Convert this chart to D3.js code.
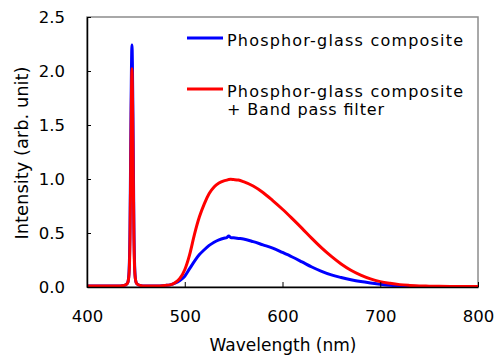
<!DOCTYPE html>
<html><head><meta charset="utf-8">
<script src="https://cdn.jsdelivr.net/npm/d3@7"></script>
<style>body{margin:0;background:#fff}svg{display:block}text{font-family:"DejaVu Sans",sans-serif;fill:#000}</style>
</head><body><svg id="c" width="501" height="355"></svg>
<script>
const wavelengths = [400,410,420,430,438,441,442,443,444,445,446,447,448,449,450,451,454,460,470,480,485,490,495,500,505,510,515,520,525,530,535,540,543,545,547,550,555,560,570,580,590,600,610,620,630,640,650,660,670,680,690,700,710,720,730,740,750,760,780,800];
const compositeValues = [0.01,0.01,0.01,0.01,0.015,0.03,0.05,0.14,0.55,1.6,2.24,1.6,0.55,0.14,0.05,0.03,0.015,0.01,0.01,0.015,0.02,0.035,0.06,0.10,0.17,0.24,0.30,0.345,0.385,0.415,0.437,0.452,0.458,0.472,0.458,0.455,0.45,0.445,0.42,0.39,0.36,0.32,0.278,0.232,0.185,0.145,0.112,0.088,0.067,0.05,0.037,0.026,0.016,0.01,0.006,0.005,0.005,0.005,0.005,0.005];
const filterValues = [0.01,0.01,0.01,0.01,0.015,0.03,0.05,0.12,0.45,1.35,2.02,1.35,0.45,0.12,0.05,0.03,0.015,0.01,0.01,0.015,0.02,0.04,0.08,0.16,0.30,0.49,0.65,0.77,0.865,0.925,0.962,0.983,0.99,0.995,0.997,0.995,0.99,0.975,0.935,0.875,0.80,0.72,0.633,0.543,0.45,0.362,0.283,0.213,0.155,0.11,0.075,0.05,0.034,0.022,0.015,0.01,0.008,0.006,0.005,0.005];
const xTicks = [400,500,600,700,800];
const yTicks = [0,0.5,1.0,1.5,2.0,2.5];
const seriesNames = ["Phosphor-glass composite","Phosphor-glass composite","+ Band pass filter"];
const xTitle = "Wavelength (nm)";
const yTitle = "Intensity (arb. unit)";

const svg = d3.select("#c");
const L=87, R=478, T=17, B=287;
const x = d3.scaleLinear().domain([400,800]).range([L,R]);
const y = d3.scaleLinear().domain([0,2.5]).range([B,T]);

svg.append("defs").append("clipPath").attr("id","clip").append("rect")
  .attr("x",L).attr("y",T-2).attr("width",R-L).attr("height",B-T+2);

// frame
svg.append("rect").attr("x",L).attr("y",T).attr("width",R-L).attr("height",B-T)
  .attr("fill","none").attr("stroke","#8c8c8c").attr("stroke-width",1.5);

const line = d3.line().x(d=>x(d[0])).y(d=>y(d[1])).curve(d3.curveMonotoneX);
const g = svg.append("g").attr("clip-path","url(#clip)");
g.append("path").datum(wavelengths.map((w,i)=>[w,compositeValues[i]]))
  .attr("d",line).attr("fill","none").attr("stroke","#0000ff").attr("stroke-width",3).attr("stroke-linejoin","round");
g.append("path").datum(wavelengths.map((w,i)=>[w,filterValues[i]]))
  .attr("d",line).attr("fill","none").attr("stroke","#ff0000").attr("stroke-width",3).attr("stroke-linejoin","round");

// axes
const xa = svg.append("g").attr("transform",`translate(0,${B})`)
  .call(d3.axisBottom(x).tickValues(xTicks).tickSize(-5).tickSizeOuter(0).tickPadding(0).tickFormat(d3.format("d")));
const ya = svg.append("g").attr("transform",`translate(${L},0)`)
  .call(d3.axisLeft(y).tickValues(yTicks).tickSize(-4).tickSizeOuter(0).tickPadding(22).tickFormat(d3.format(".1f")));
[xa,ya].forEach(a=>{
  a.select(".domain").attr("stroke","#000").attr("stroke-width",1.5);
  a.selectAll(".tick line").attr("stroke","#000").attr("stroke-width",1);
  a.selectAll(".tick text").attr("font-size",16.5).attr("font-family","'DejaVu Sans',sans-serif").attr("fill","#000");
});
xa.selectAll(".tick text").attr("y",35).attr("dy",null);

svg.append("text").attr("x",283).attr("y",351).attr("text-anchor","middle").attr("font-size",17)
  .attr("textLength",147).attr("lengthAdjust","spacingAndGlyphs").text(xTitle);
svg.append("text").attr("transform","translate(28,153) rotate(-90)").attr("text-anchor","middle").attr("font-size",17)
  .attr("textLength",173).attr("lengthAdjust","spacingAndGlyphs").text(yTitle);

// legend
const lg = svg.append("g");
lg.append("line").attr("x1",187).attr("x2",223).attr("y1",38).attr("y2",38).attr("stroke","#0000ff").attr("stroke-width",3);
lg.append("line").attr("x1",187).attr("x2",223).attr("y1",89).attr("y2",89).attr("stroke","#ff0000").attr("stroke-width",3);
lg.append("text").attr("x",227).attr("y",46).attr("font-size",16).attr("textLength",236).attr("lengthAdjust","spacing").text(seriesNames[0]);
lg.append("text").attr("x",227).attr("y",97).attr("font-size",16).attr("textLength",236).attr("lengthAdjust","spacing").text(seriesNames[1]);
lg.append("text").attr("x",227).attr("y",115).attr("font-size",16).attr("textLength",157).attr("lengthAdjust","spacing").text(seriesNames[2]);
</script></body></html>
